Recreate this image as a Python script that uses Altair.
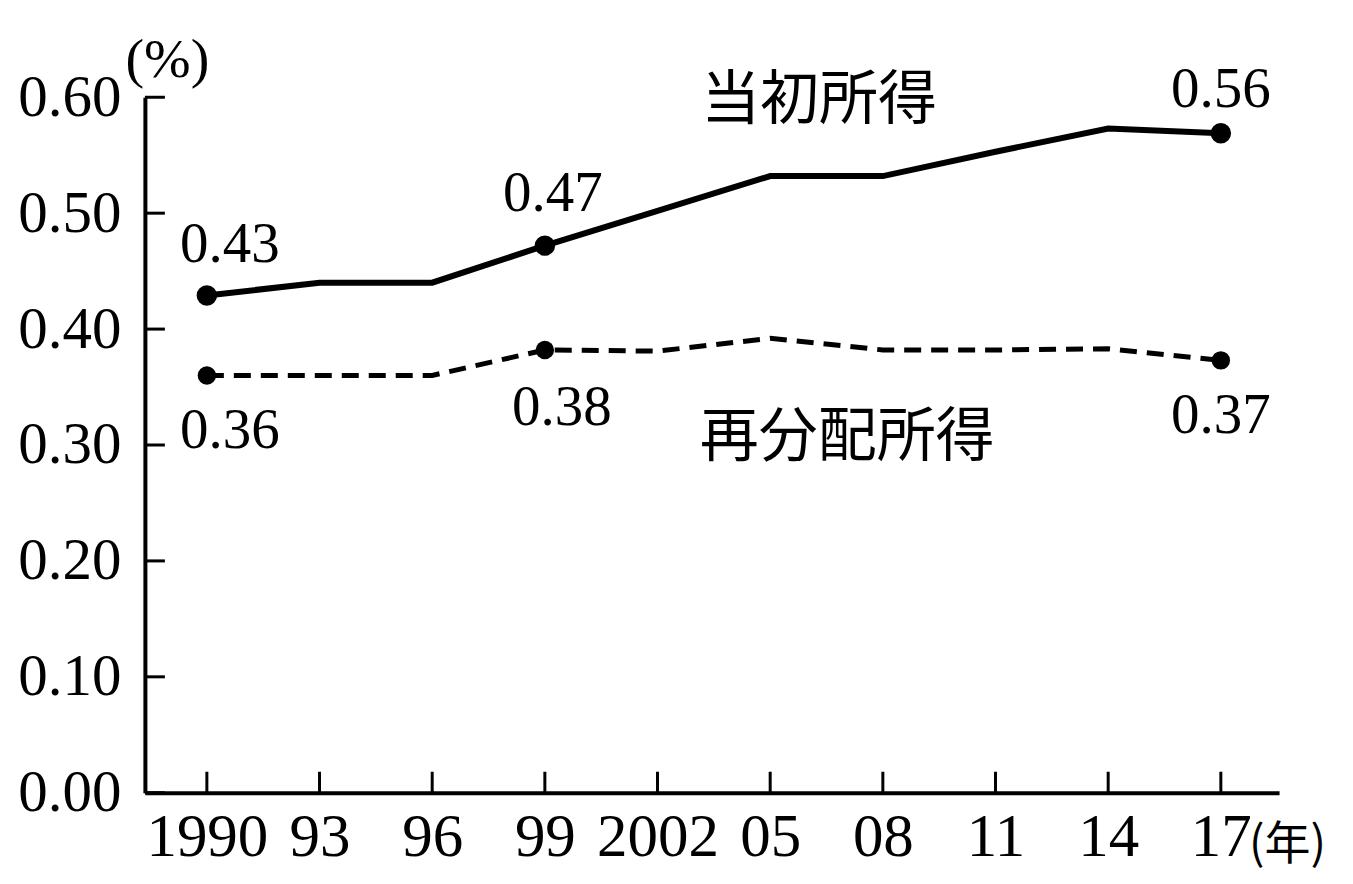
import pandas as pd
import altair as alt

# data
years = [1990, 1993, 1996, 1999, 2002, 2005, 2008, 2011, 2014, 2017]
tick_labels = ["1990", "93", "96", "99", "2002", "05", "08", "11", "14", "17"]
initial = [0.429, 0.440, 0.440, 0.472, 0.502, 0.532, 0.532, 0.553, 0.573, 0.569]
redistributed = [0.360, 0.360, 0.360, 0.382, 0.381, 0.392, 0.382, 0.382, 0.383, 0.373]
series_names = ["当初所得", "再分配所得"]
marked_years = [1990, 1999, 2017]
initial_labels = ["0.43", "0.47", "0.56"]
redistributed_labels = ["0.36", "0.38", "0.37"]
y_ticks = [0.0, 0.1, 0.2, 0.3, 0.4, 0.5, 0.6]

W, H = 1135, 696
NUM_FONT = "Liberation Serif"
JP_FONT = "Noto Sans CJK JP"

df_init = pd.DataFrame({"year": years, "value": initial})
df_redis = pd.DataFrame({"year": years, "value": redistributed})

label_expr = " : ".join(
    f"datum.value == {y} ? '{t}'" for y, t in zip(years, tick_labels)
) + " : ''"

x_axis = alt.Axis(values=years, labelExpr=label_expr, ticks=False, grid=False,
                  domainColor="black", domainWidth=4, labelFont=NUM_FONT,
                  labelFontSize=61, labelColor="black", labelPadding=15,
                  labelFlush=False, labelOverlap=False,
                  title="(年)", titleFont=JP_FONT, titleFontSize=46,
                  titleFontWeight="normal", titleColor="black",
                  titleX=W + 8, titleY=52, titleAlign="center", titleBaseline="middle")
y_axis = alt.Axis(values=y_ticks, format=".2f", ticks=False, grid=False,
                  domainColor="black", domainWidth=4, labelFont=NUM_FONT,
                  labelFontSize=59, labelColor="black", labelPadding=24,
                  labelFlush=False, labelOverlap=False,
                  title="(%)", titleFont=NUM_FONT, titleFontSize=56,
                  titleFontWeight="normal", titleColor="black", titleAngle=0,
                  titleX=22, titleY=-38, titleAlign="center", titleBaseline="middle")

xs = alt.Scale(domain=[1988.35, 2018.55], nice=False, zero=False)
ys = alt.Scale(domain=[0, 0.6], nice=False)
X = alt.X("year:Q", scale=xs, axis=x_axis)
Y = alt.Y("value:Q", scale=ys, axis=y_axis)

# inward ticks
y_tick_rules = alt.Chart(pd.DataFrame({"value": y_ticks})).mark_rule(
    color="black", strokeWidth=3
).encode(y=Y, x=alt.value(0), x2=alt.value(20))
x_tick_rules = alt.Chart(pd.DataFrame({"year": years})).mark_rule(
    color="black", strokeWidth=3
).encode(x=X, y=alt.value(H), y2=alt.value(H - 21))

line_init = alt.Chart(df_init).mark_line(color="black", strokeWidth=6).encode(x=X, y=Y)
line_redis = alt.Chart(df_redis).mark_line(
    color="black", strokeWidth=5, strokeDash=[17, 10]
).encode(x=X, y=Y)

pts_init = alt.Chart(df_init[df_init.year.isin(marked_years)]).mark_circle(
    color="black", opacity=1, size=420
).encode(x=X, y=Y)
pts_redis = alt.Chart(df_redis[df_redis.year.isin(marked_years)]).mark_circle(
    color="black", opacity=1, size=340
).encode(x=X, y=Y)

layers = [y_tick_rules, x_tick_rules, line_init, line_redis, pts_init, pts_redis]

offsets_top = {1990: (23, -50), 1999: (8, -52), 2017: (0, -43)}
offsets_bottom = {1990: (23, 56), 1999: (17, 58), 2017: (0, 56)}
for df, labels, offs in [(df_init, initial_labels, offsets_top),
                         (df_redis, redistributed_labels, offsets_bottom)]:
    for yr, lab in zip(marked_years, labels):
        v = float(df.loc[df.year == yr, "value"].iloc[0])
        dx, dy = offs[yr]
        layers.append(
            alt.Chart(pd.DataFrame({"year": [yr], "value": [v], "label": [lab]}))
            .mark_text(font=NUM_FONT, fontSize=57, color="black", dx=dx, dy=dy,
                       align="center", baseline="middle")
            .encode(x=X, y=Y, text="label:N")
        )

series_text = pd.DataFrame({"year": [2006.3, 2007.05], "value": [0.597, 0.306],
                            "label": series_names})
layers.append(
    alt.Chart(series_text).mark_text(font=JP_FONT, fontSize=59, color="black",
                                     align="center", baseline="middle")
    .encode(x=X, y=Y, text="label:N")
)

chart = alt.layer(*layers).properties(
    width=W, height=H,
    autosize=alt.AutoSizeParams(type="none"),
    padding={"left": 137, "top": 89, "right": 66, "bottom": 78},
).configure(background="white").configure_view(strokeWidth=0)

chart.save("out.html", embed_options={"renderer": "svg", "actions": False})
